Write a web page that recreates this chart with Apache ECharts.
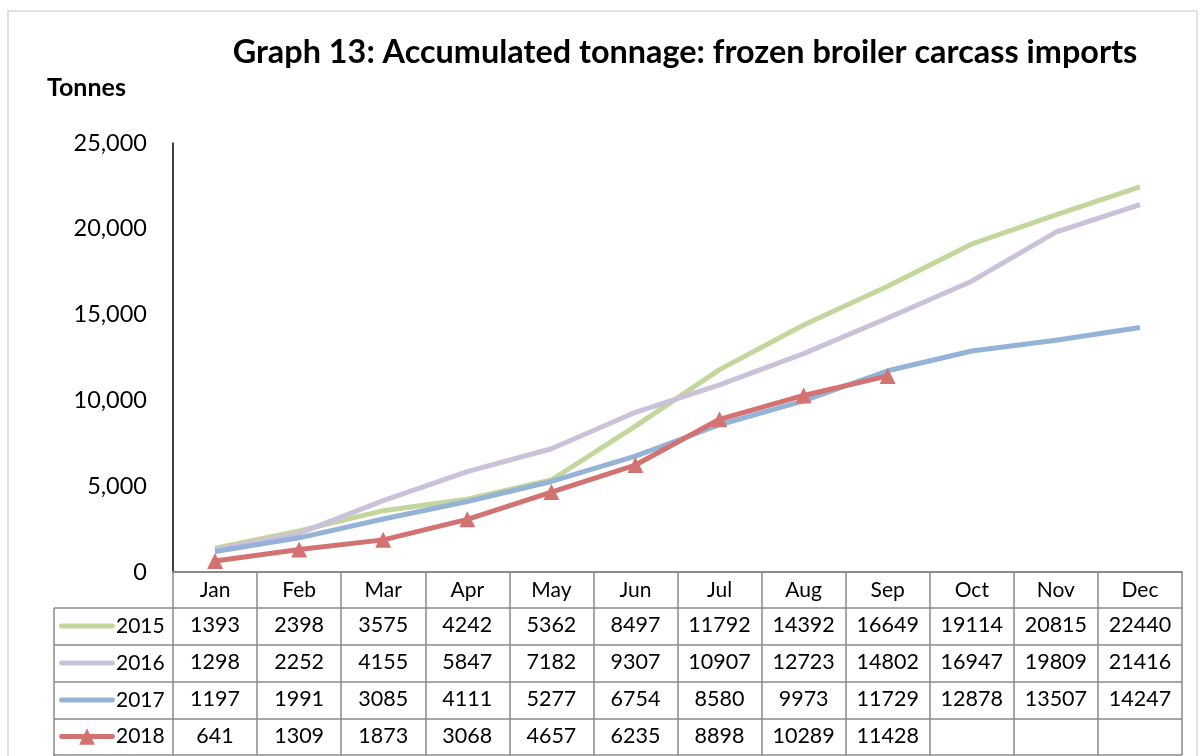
<!DOCTYPE html>
<html><head><meta charset="utf-8">
<script src="https://cdn.jsdelivr.net/npm/echarts@6/dist/echarts.min.js"></script>
<style>html,body{margin:0;padding:0;background:#fff}#c{width:1203px;height:756px}</style>
</head><body><div id="c"></div>
<script>
const months = ['Jan','Feb','Mar','Apr','May','Jun','Jul','Aug','Sep','Oct','Nov','Dec'];
const years = ['2015','2016','2017','2018'];
const s2015 = [1393,2398,3575,4242,5362,8497,11792,14392,16649,19114,20815,22440];
const s2016 = [1298,2252,4155,5847,7182,9307,10907,12723,14802,16947,19809,21416];
const s2017 = [1197,1991,3085,4111,5277,6754,8580,9973,11729,12878,13507,14247];
const s2018 = [641,1309,1873,3068,4657,6235,8898,10289,11428,null,null,null];
const yTicks = [0,5000,10000,15000,20000,25000];

const FONT = 'Lato';
const colors = ['#C3D69B','#CCC1DA','#95B3D7','#D37371'];
const allSeries = [s2015,s2016,s2017,s2018];
const gridLeft = 173, gridRight = 21, gridTop = 143, gridBottom = 184;
const rowOffsets = [34,71,108,145];
const rowCenters = [626.5,663.5,700.5,737];
const tableLineColor = '#8a8a8a';

const chart = echarts.init(document.getElementById('c'));

const xAxes = [{
  type:'category', data: months, boundaryGap:true, position:'bottom',
  axisLine:{show:true, lineStyle:{color:tableLineColor, width:2}},
  axisTick:{show:true, interval:0, length:183, lineStyle:{color:tableLineColor, width:1.5}},
  axisLabel:{interval:0, margin:8, fontFamily:FONT, fontSize:21, color:'#000'}
}];
allSeries.forEach((s,i)=>{
  xAxes.push({
    type:'category', data: s.map(v=> v==null ? '' : String(v)), boundaryGap:true, position:'bottom',
    offset: rowOffsets[i],
    axisLine:{show:false}, axisTick:{show:false},
    axisLabel:{interval:0, margin:8, fontFamily:FONT, fontSize:21.5, color:'#000'}
  });
});

const graphics = [
  {type:'rect', shape:{x:8, y:11, width:1189, height:760}, style:{fill:null, stroke:'#d9d9d9', lineWidth:1.5}, silent:true, z:-1}
];
[608,645,682,719,755].forEach(y=>{
  graphics.push({type:'line', shape:{x1:54, y1:y, x2:1182, y2:y}, style:{stroke:tableLineColor, lineWidth:1.5}});
});
graphics.push({type:'line', shape:{x1:54, y1:608, x2:54, y2:756}, style:{stroke:tableLineColor, lineWidth:1.5}});

const lineIcon = 'path://M2,6 L54,6 A2.5,2.5 0 0 1 54,11 L2,11 A2.5,2.5 0 0 1 2,6 Z';
const triIcon = 'path://M2,6 L54,6 A2.5,2.5 0 0 1 54,11 L2,11 A2.5,2.5 0 0 1 2,6 Z M28,0 L36,17 L20,17 Z';

const legends = years.map((y,i)=>({
  orient:'horizontal', left:59, top: rowCenters[i]-11, itemWidth:56, itemHeight:17, padding:0,
  data:[{name:y, icon: i===3 ? triIcon : lineIcon}],
  textStyle:{fontFamily:FONT, fontSize:21, color:'#000', padding:[0,0,0,-4]}
}));

chart.setOption({
  animation:false,
  title:{
    text:'Graph 13: Accumulated tonnage: frozen broiler carcass imports',
    left:680, textAlign:'center', top:32,
    textStyle:{fontFamily:FONT, fontWeight:'bold', fontSize:32.4, color:'#000'}
  },
  graphic: graphics.concat([{type:'text', left:47, top:75, style:{text:'Tonnes', font:'bold 25px '+FONT, fill:'#000'}}]),
  legend: legends,
  grid:{left:gridLeft, right:gridRight, top:gridTop, bottom:gridBottom, containLabel:false},
  xAxis: xAxes,
  yAxis:{
    type:'value', min:0, max:25000, interval:5000,
    axisLine:{show:true, lineStyle:{color:'#000', width:1.5}},
    axisTick:{show:false}, splitLine:{show:false},
    axisLabel:{margin:26, fontFamily:FONT, fontSize:23.5, color:'#000',
      formatter:v=> v.toLocaleString('en-US')}
  },
  series: allSeries.map((s,i)=>({
    name: years[i], type:'line', data:s, xAxisIndex:0,
    symbol: i===3 ? 'triangle' : 'none', symbolSize: 16, showSymbol: i===3,
    lineStyle:{color:colors[i], width:5},
    itemStyle:{color:colors[i]},
    z: 2+i
  }))
});
</script></body></html>
